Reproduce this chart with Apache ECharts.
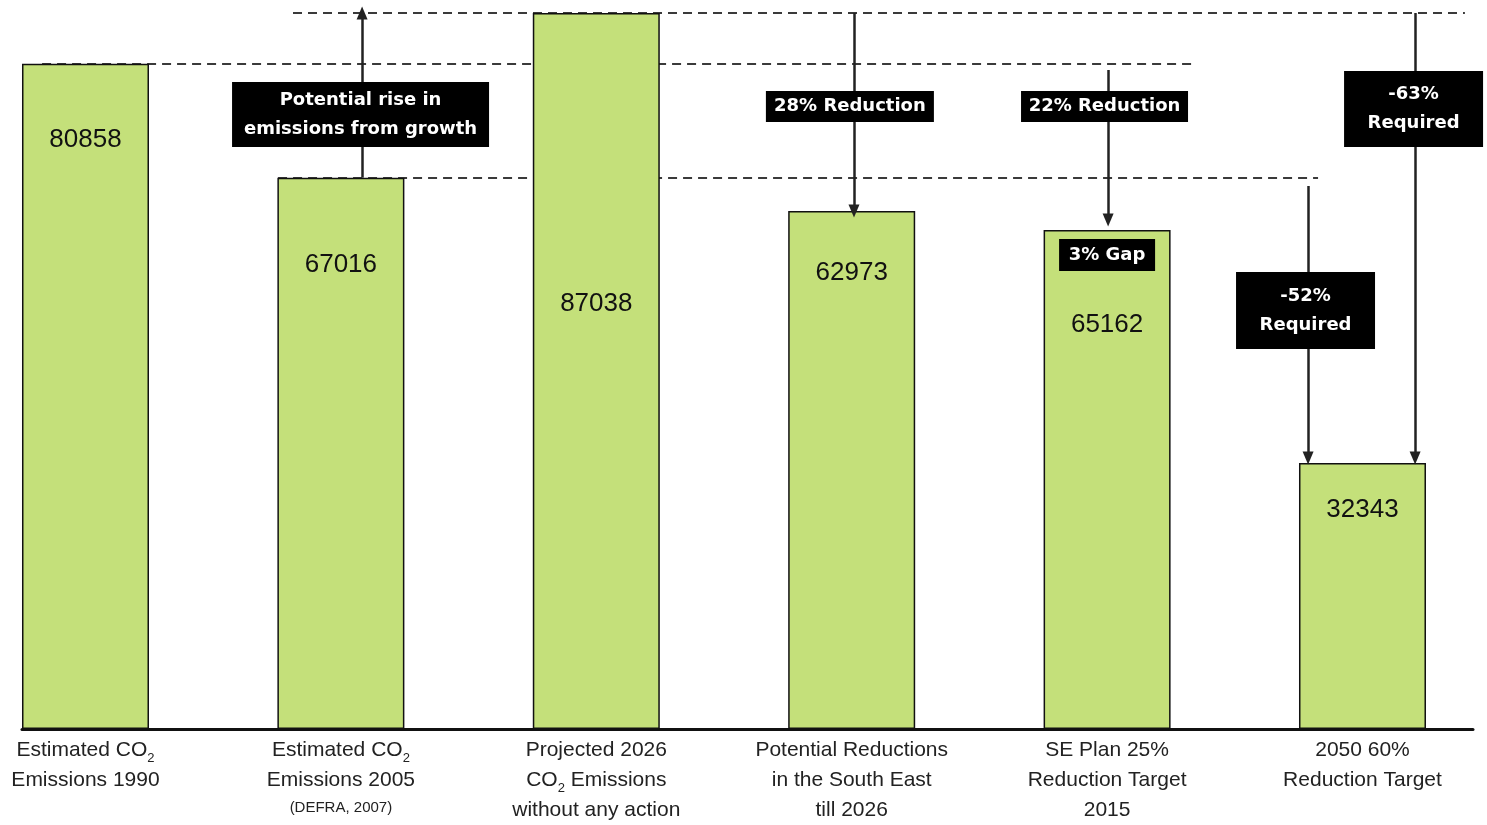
<!DOCTYPE html>
<html><head><meta charset="utf-8">
<script src="https://cdn.jsdelivr.net/npm/echarts@6/dist/echarts.min.js"></script>
<style>html,body{margin:0;padding:0;background:#fff}#c{width:1487px;height:825px}</style>
</head><body><div id="c"></div>
<script>
// ---- data ----
const categories = [
  'Estimated CO{sub|2}\nEmissions 1990',
  'Estimated CO{sub|2}\nEmissions 2005\n{small|(DEFRA, 2007)}',
  'Projected 2026\nCO{sub|2} Emissions\nwithout any action',
  'Potential Reductions\nin the South East\ntill 2026',
  'SE Plan 25%\nReduction Target\n2015',
  '2050 60%\nReduction Target'
];
const barValues = [80858, 67016, 87038, 62973, 60644, 32343];
const valueLabels = ['80858', '67016', '87038', '62973', '65162', '32343'];
// annotation boxes: text, [category position, value]
const boxTexts = ['Potential rise in\nemissions from growth', '28% Reduction', '22% Reduction', '-63%\nRequired', '3% Gap', '-52%\nRequired'];
const boxAt = [[1.077, 74700], [2.993, 75670], [3.990, 75670], [5.200, 75370], [4.000, 57620], [4.777, 50870]];
// arrows: [category position, from value, to value]
const arrows = [[1.083, 67016, 87038], [3.009, 87038, 62973], [4.004, 80110, 61875], [4.787, 66010, 32943], [5.206, 87038, 32943]];
// dashed guide lines: [value, from position, to position]
const guides = [[87038, 0.8125, 5.401], [80858, -0.170, 4.352], [67016, 0.754, 4.826]];

// ---- styles ----
const labelDist = [63, 74, 278, 49, 82, 34];
const boxSizes = [[257, 65], [168, 31], [167, 31], [139, 76], [96, 32], [139, 77]];

const chart = echarts.init(document.getElementById('c'), null, {renderer: 'canvas'});
chart.setOption({
  animation: false,
  grid: {left: 22, right: 14, top: 13, bottom: 96},
  xAxis: {
    type: 'value', min: -0.2486, max: 5.4327,
    splitLine: {show: false},
    axisTick: {show: false},
    axisLine: {show: true, onZero: false, lineStyle: {color: '#111', width: 3}},
    axisLabel: {
      customValues: [0, 1, 2, 3, 4, 5],
      formatter: v => categories[Math.round(v)],
      fontFamily: 'Liberation Sans, Arial', fontSize: 21, color: '#222',
      lineHeight: 30, margin: 6, align: 'center',
      rich: {
        sub: {fontSize: 13, fontFamily: 'Liberation Sans, Arial', color: '#222', lineHeight: 30, verticalAlign: 'bottom', padding: [10, 0, 0, 0]},
        small: {fontSize: 15, fontFamily: 'Liberation Sans, Arial', color: '#222', lineHeight: 26}
      }
    }
  },
  yAxis: {type: 'value', min: 0, max: 87038, show: false},
  series: [
    {
      type: 'line', data: [], z: 1,
      markLine: {
        silent: true, z: 1, symbol: 'none', label: {show: false},
        lineStyle: {type: [9, 6], color: '#3a3a3a', width: 2.2},
        emphasis: {disabled: true},
        data: guides.map(d => [{coord: [d[1], d[0]]}, {coord: [d[2], d[0]]}])
      }
    },
    {
      type: 'bar', z: 3, barWidth: 127,
      data: barValues.map((v, i) => ({value: [i, v], label: {distance: labelDist[i]}})),
      itemStyle: {color: '#c4e07a', borderColor: '#111', borderWidth: 1.5},
      label: {
        show: true, position: 'insideTop',
        formatter: p => valueLabels[p.dataIndex],
        fontFamily: 'Liberation Sans, Arial', fontSize: 26, color: '#111'
      }
    },
    {
      type: 'line', data: [], z: 4,
      markLine: {
        silent: true, z: 4, symbol: ['none', 'triangle'], symbolSize: [11, 13], label: {show: false},
        lineStyle: {type: 'solid', color: '#222', width: 2.5},
        emphasis: {disabled: true},
        data: arrows.map(a => [{coord: [a[0], a[1]]}, {coord: [a[0], a[2]]}])
      }
    },
    {
      type: 'line', data: [], z: 5,
      markPoint: {
        silent: true, z: 5, symbol: 'rect',
        itemStyle: {color: '#000'},
        label: {
          show: true, position: 'inside', color: '#fff',
          fontFamily: 'DejaVu Sans', fontWeight: 'bold', fontSize: 18, lineHeight: 29,
          formatter: p => boxTexts[p.dataIndex]
        },
        data: boxAt.map((p, i) => ({coord: p, symbolSize: boxSizes[i], value: i}))
      }
    }
  ]
});
</script>
</body></html>
